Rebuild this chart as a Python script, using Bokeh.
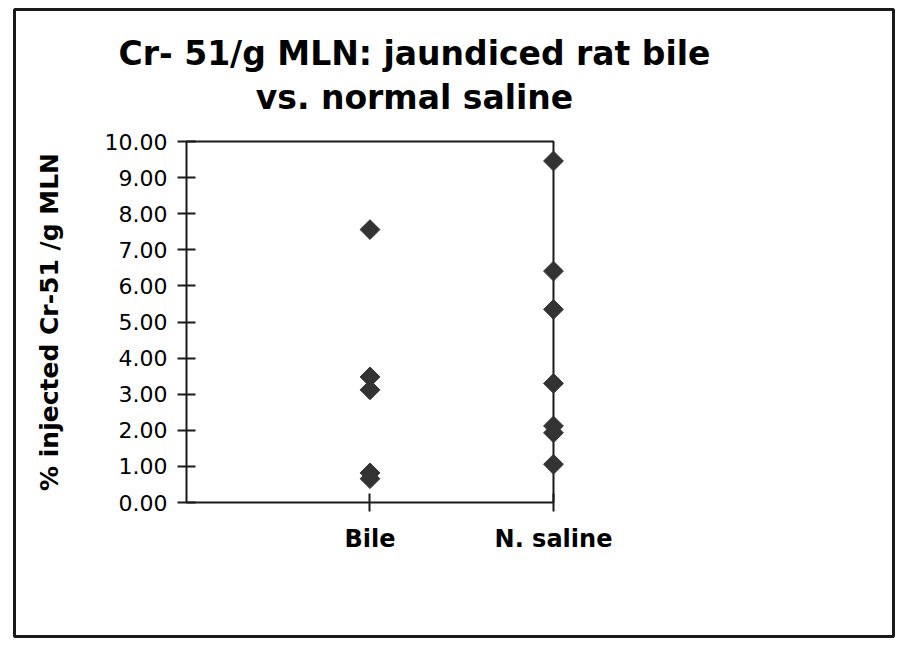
from bokeh.plotting import figure
from bokeh.models import Range1d, FixedTicker, Label, PrintfTickFormatter
from bokeh.embed import file_html
from bokeh.resources import INLINE

# Cr-51 per gram of mesenteric lymph node, by instillate
categories = ["Bile", "N. saline"]
bile_values = [7.56, 3.48, 3.12, 0.82, 0.66]
saline_values = [9.46, 6.41, 5.35, 3.30, 2.12, 1.93, 1.06]
y_ticks = [0, 1, 2, 3, 4, 5, 6, 7, 8, 9, 10]
title_lines = ["Cr- 51/g MLN: jaundiced rat bile", "vs. normal saline"]
y_label = "% injected Cr-51 /g MLN"

INK = "#1a1a1a"
MARK = "#333333"

x_pos = {c: i + 1 for i, c in enumerate(categories)}
x_last = x_pos[categories[-1]]
y_top = y_ticks[-1]

# The frame spans the whole bordered card; the axes sit at fixed
# locations inside it so the outline doubles as the card border.
p = figure(
    width=898, height=645,
    x_range=Range1d(-0.9373, 3.853), y_range=Range1d(-3.712, 13.657),
    output_backend="svg", toolbar_location=None,
    min_border_left=14, min_border_right=5,
    min_border_top=9, min_border_bottom=9,
)
p.background_fill_color = "white"
p.border_fill_color = "white"
p.outline_line_color = INK
p.outline_line_width = 3
p.xgrid.visible = False
p.ygrid.visible = False

# top and right edges of the plot box
p.line(x=[0, x_last, x_last], y=[y_top, y_top, 0], line_color=INK, line_width=2)

# data points
p.scatter(x=[x_pos["Bile"]] * len(bile_values), y=bile_values,
          marker="square", angle=0.785398, size=14,
          fill_color=MARK, line_color=MARK, line_width=1)
p.scatter(x=[x_pos["N. saline"]] * len(saline_values), y=saline_values,
          marker="square", angle=0.785398, size=14,
          fill_color=MARK, line_color=MARK, line_width=1)

# y axis
yax = p.yaxis[0]
yax.fixed_location = 0
yax.bounds = (0, y_top)
yax.ticker = FixedTicker(ticks=y_ticks)
yax.formatter = PrintfTickFormatter(format="%.2f")
yax.minor_tick_line_color = None
yax.major_tick_in = 9
yax.major_tick_out = 9
yax.major_tick_line_width = 2
yax.major_tick_line_color = INK
yax.axis_line_width = 2
yax.axis_line_color = INK
yax.major_label_text_font = "DejaVu Sans"
yax.major_label_text_font_size = "22px"
yax.major_label_text_color = "black"
yax.major_label_standoff = 10
yax.axis_label = y_label
yax.axis_label_text_font = "DejaVu Sans"
yax.axis_label_text_font_style = "bold"
yax.axis_label_text_font_size = "25px"
yax.axis_label_text_color = "black"
yax.axis_label_standoff = 38

# x axis
xax = p.xaxis[0]
xax.fixed_location = 0
xax.bounds = (0, x_last)
xax.ticker = FixedTicker(ticks=list(x_pos.values()))
xax.major_label_overrides = {v: k for k, v in x_pos.items()}
xax.minor_tick_line_color = None
xax.major_tick_in = 9
xax.major_tick_out = 9
xax.major_tick_line_width = 2
xax.major_tick_line_color = INK
xax.axis_line_width = 2
xax.axis_line_color = INK
xax.major_label_text_font = "DejaVu Sans"
xax.major_label_text_font_style = "bold"
xax.major_label_text_font_size = "24px"
xax.major_label_text_color = "black"
xax.major_label_standoff = 13

# two-line title
for text, ty in zip(title_lines, [12.44, 11.22]):
    p.add_layout(Label(x=1.2425, y=ty, text=text, text_align="center",
                       text_baseline="alphabetic", text_font="DejaVu Sans",
                       text_font_style="bold", text_font_size="33px",
                       text_color="black"))

open("out.html", "w").write(file_html(p, INLINE))
